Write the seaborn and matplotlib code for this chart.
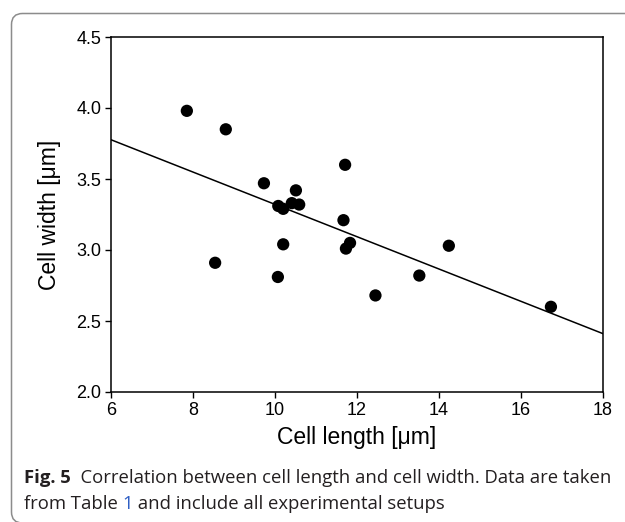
import matplotlib
matplotlib.use("Agg")
import matplotlib.pyplot as plt
import pandas as pd
import seaborn as sns
from matplotlib.patches import FancyBboxPatch
from matplotlib.transforms import IdentityTransform

# cell length / width of every experimental setup
cell_length = [7.85, 8.80, 9.73, 8.54, 10.08, 10.20, 10.41, 10.59, 10.51, 10.20,
               10.07, 11.71, 11.67, 11.73, 11.83, 12.45, 13.52, 14.24, 16.73]
cell_width = [3.98, 3.85, 3.47, 2.91, 3.31, 3.29, 3.33, 3.32, 3.42, 3.04,
              2.81, 3.60, 3.21, 3.01, 3.05, 2.68, 2.82, 3.03, 2.60]

x_ticks = [6, 8, 10, 12, 14, 16, 18]
y_ticks = [2.0, 2.5, 3.0, 3.5, 4.0, 4.5]
x_label = "Cell length [μm]"
y_label = "Cell width [μm]"

caption_bold = "Fig. 5"
caption_line1 = "  Correlation between cell length and cell width. Data are taken"
caption_line2 = ["from Table ", "1", " and include all experimental setups"]

tick_size = 13
label_size = 16.5
caption_size = 13.3
text_color = "#231f20"

sns.set_style("ticks")
plt.rcParams['font.family'] = ['Liberation Sans', 'DejaVu Sans']

df = pd.DataFrame({"length": cell_length, "width": cell_width})

fig = plt.figure(figsize=(6.25, 5.22), dpi=100)
ax = fig.add_axes([111 / 625, 1 - 392 / 522, 492 / 625, 355 / 522])
ax.set_xlim(6, 18)
ax.set_ylim(2.0, 4.5)

# regression line over the full x range
sns.regplot(data=df, x="length", y="width", scatter=False, ci=None, truncate=False,
            color="black", line_kws={"linewidth": 1.1}, ax=ax)
sns.scatterplot(data=df, x="length", y="width", s=78, color="black",
                edgecolor="none", ax=ax, zorder=3)

ax.set_xlim(6, 18)
ax.set_ylim(2.0, 4.5)
ax.set_xticks(x_ticks)
ax.set_xticklabels([str(v) for v in x_ticks])
ax.set_yticks(y_ticks)
ax.set_yticklabels([f"{v:.1f}" for v in y_ticks])
ax.tick_params(direction="out", length=4, width=1.0, labelsize=tick_size, pad=3,
               colors="black")
for sp in ax.spines.values():
    sp.set_linewidth(1.1)
    sp.set_color("black")
ax.set_xlabel(x_label, fontsize=label_size, labelpad=5, color="black")
ax.set_ylabel(y_label, fontsize=label_size, labelpad=11, color="black")

# rounded frame of the figure panel (pixel coordinates)
frame = FancyBboxPatch((11.5, -1), 660, 509.5, boxstyle="round,pad=0,rounding_size=11",
                       transform=IdentityTransform(), fill=False,
                       edgecolor="#8c8c8c", linewidth=1.1)
fig.add_artist(frame)

# caption
cap_font = ["Open Sans", "DejaVu Sans"]
t1 = fig.text(24 / 625, 1 - 487 / 522, caption_bold, fontsize=caption_size,
              fontweight="bold", family=cap_font, color=text_color, va="bottom")
ax.annotate(caption_line1, xy=(1, 0), xycoords=t1, va="bottom", ha="left",
            fontsize=caption_size, family=cap_font, color=text_color,
            annotation_clip=False)
t3 = fig.text(24 / 625, 1 - 513 / 522, caption_line2[0], fontsize=caption_size,
              family=cap_font, color=text_color, va="bottom")
t4 = ax.annotate(caption_line2[1], xy=(1, 0), xycoords=t3, va="bottom", ha="left",
                 fontsize=caption_size, family=cap_font, color="#2f5fc4",
                 annotation_clip=False)
ax.annotate(caption_line2[2], xy=(1, 0), xycoords=t4, va="bottom", ha="left",
            fontsize=caption_size, family=cap_font, color=text_color,
            annotation_clip=False)

fig.savefig("out.png", dpi=100)
